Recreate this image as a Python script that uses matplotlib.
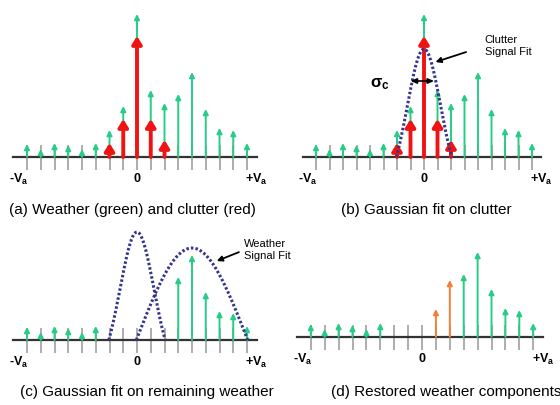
import numpy as np
import matplotlib.pyplot as plt

plt.rcParams['font.family'] = ['Liberation Sans', 'DejaVu Sans']
plt.rcParams['mathtext.fontset'] = 'custom'
plt.rcParams['mathtext.bf'] = 'Liberation Sans:bold'
plt.rcParams['mathtext.rm'] = 'Liberation Sans'
plt.rcParams['mathtext.it'] = 'Liberation Sans:italic'

# velocity bins from -Va to +Va
bins = list(range(-8, 9))

# weather spectrum (green), one value per bin
weather = [13, 8, 14, 12, 8, 14, 27, 51, 143, 67, 54, 63, 85, 48, 29, 27, 14]
# clutter spectrum (red) around zero velocity
clutter_bins = [-2, -1, 0, 1, 2]
clutter = [14, 38, 121, 38, 17]
# bins thrown away together with the clutter
removed_bins = [-2, -1, 0, 1, 2]
# weather put back from the weather fit (orange)
restored_bins = [1, 2]
restored = [28, 57]

# gaussian fits: amplitude, centre, half width of the drawn part, width ratio
clutter_fit = (108, 0.0, 2.05, 0.6)
weather_fit = (92, 4.0, 4.05, 1.0)
sigma_span = (-1.0, 0.75)
sigma_height = 76

captions = ['(a) Weather (green) and clutter (red)',
            '(b) Gaussian fit on clutter',
            '(c) Gaussian fit on remaining weather',
            '(d) Restored weather components']

GREEN = '#27cc86'
RED = '#ee1414'
ORANGE = '#f0803a'
NAVY = '#35358f'

W, H = 560, 405
fig = plt.figure(figsize=(W / 100, H / 100), dpi=100)


def panel(x0, y0, dx):
    # x0, y0: pixel position of the zero bin on the axis line, dx: bin spacing
    ax = fig.add_axes([(x0 - 10 * dx) / W, (H - y0 - 40) / H, 20 * dx / W, 200 / H])
    ax.set_xlim(-10, 10)
    ax.set_ylim(-40, 160)
    ax.axis('off')
    ax.plot([-9, 8.7], [0, 0], color='#333333', lw=1.6, zorder=3)
    ax.vlines(bins, -13, 12, color='#a0a0a0', lw=1.2, zorder=2)
    kw = dict(ha='center', va='center', fontsize=9, fontweight='bold')
    ax.text(-8.6, -22, r'-V$_\mathbf{a}$', **kw)
    ax.text(0, -22, '0', **kw)
    ax.text(8.7, -22, r'+V$_\mathbf{a}$', **kw)
    return ax


def stems(ax, xs, hs, color, lw, hl, hw, z):
    for x, h in zip(xs, hs):
        ax.annotate('', xy=(x, h), xytext=(x, 0),
                    arrowprops=dict(arrowstyle=f'-|>,head_length={hl},head_width={hw}',
                                    color=color, lw=lw, shrinkA=0, shrinkB=0),
                    zorder=z)


def fit_curve(ax, amp, mu, half, ratio):
    x = np.linspace(mu - half, mu + half, 200)
    s = ratio * half
    g = np.exp(-(x - mu) ** 2 / (2 * s * s))
    g0 = np.exp(-half ** 2 / (2 * s * s))
    ax.plot(x, amp * (g - g0) / (1 - g0), color=NAVY, lw=2.2,
            ls=(0, (0.8, 0.7)), zorder=6)


def green_subset(skip):
    xs = [b for b in bins if b not in skip]
    hs = [weather[bins.index(b)] for b in xs]
    return xs, hs


GREEN_STYLE = (GREEN, 1.4, 0.3, 0.15, 4)
RED_STYLE = (RED, 2.8, 0.45, 0.28, 5)

# (a)
ax = panel(137, 157, 13.75)
stems(ax, bins, weather, *GREEN_STYLE)
stems(ax, clutter_bins, clutter, *RED_STYLE)

# (b)
ax = panel(424, 157, 13.5)
stems(ax, bins, weather, *GREEN_STYLE)
stems(ax, clutter_bins, clutter, *RED_STYLE)
fit_curve(ax, *clutter_fit)
ax.annotate('', xy=(sigma_span[0], sigma_height), xytext=(sigma_span[1], sigma_height),
            arrowprops=dict(arrowstyle='<|-|>,head_length=0.35,head_width=0.15',
                            color='black', lw=1.2, shrinkA=0, shrinkB=0), zorder=7)
ax.text(-3.3, 73, r'$\mathbf{\sigma_c}$', ha='center', va='center', fontsize=12)
ax.annotate('Clutter\nSignal Fit', xy=(0.85, 95), xytext=(4.5, 111),
            fontsize=8, ha='left', va='center',
            arrowprops=dict(arrowstyle='-|>,head_length=0.4,head_width=0.2',
                            color='black', lw=1.3, shrinkA=12, shrinkB=0,
                            relpos=(0, 0.5)))

# (c)
ax = panel(137, 340, 13.75)
xs, hs = green_subset(removed_bins)
stems(ax, xs, hs, *GREEN_STYLE)
fit_curve(ax, *clutter_fit)
fit_curve(ax, *weather_fit)
ax.annotate('Weather\nSignal Fit', xy=(5.8, 79), xytext=(7.8, 90),
            fontsize=8, ha='left', va='center',
            arrowprops=dict(arrowstyle='-|>,head_length=0.4,head_width=0.2',
                            color='black', lw=1.3, shrinkA=2, shrinkB=0,
                            relpos=(0, 0.5)))

# (d)
ax = panel(422, 337, 13.9)
xs, hs = green_subset(removed_bins)
stems(ax, xs, hs, *GREEN_STYLE)
stems(ax, restored_bins, restored, ORANGE, 1.4, 0.3, 0.15, 5)

cap_pos = [(132, 210), (426, 210), (147, 392), (446, 392)]
for (cx, cy), txt in zip(cap_pos, captions):
    fig.text(cx / W, 1 - cy / H, txt, ha='center', va='center', fontsize=11)

fig.savefig('out.png', dpi=100)
